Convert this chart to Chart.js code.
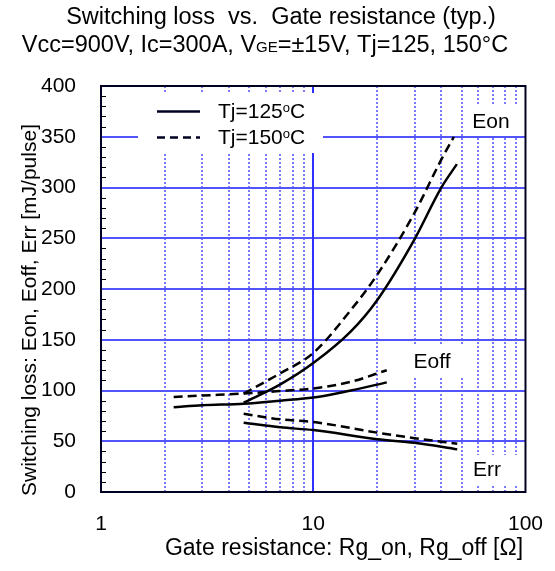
<!DOCTYPE html>
<html>
<head>
<meta charset="utf-8">
<script src="https://cdn.jsdelivr.net/npm/chart.js@4/dist/chart.umd.min.js"></script>
<style>
  html, body { margin: 0; padding: 0; background: #fff; }
  #wrap { width: 555px; height: 571px; }
</style>
</head>
<body>
<div id="wrap"><canvas id="chart" width="555" height="571"></canvas></div>
<script>
// Gate resistance [ohm] and losses [mJ/pulse]
const rgEon125 = [4.7, 7, 10, 15, 20, 30, 40, 47.5];
const eon125   = [88, 106, 127, 158, 189, 249, 299.5, 323];
const rgEon150 = [4.7, 7, 10, 15, 20, 30, 40, 46];
const eon150   = [97, 117, 137, 179, 214, 275, 327, 350];

const rgEoff  = [2.2, 3, 4.7, 7, 10, 15, 22.2];
const eoff125 = [83.5, 85.4, 87, 90, 93, 100, 108];
const eoff150 = [93.5, 95, 97, 99.5, 102, 108.5, 120];

const rgErr  = [4.7, 7, 10, 20, 30, 47.7];
const err125 = [68.3, 63.7, 61, 52, 48.5, 42];
const err150 = [77, 71.6, 69, 58.5, 53, 47.6];

const xTickLabels = [1, 10, 100];
const yTicks = [0, 50, 100, 150, 200, 250, 300, 350, 400];

const FONT = "'Liberation Sans', Arial, sans-serif";

const pts = (xs, ys) => xs.map((x, i) => ({ x, y: ys[i] }));

const solid = (label, xs, ys) => ({
    label, data: pts(xs, ys), borderColor: '#000', borderWidth: 2.5,
    pointRadius: 0, cubicInterpolationMode: 'monotone', fill: false
});
const dashed = (label, xs, ys) => ({ ...solid(label, xs, ys), borderDash: [9, 5] });

// white boxes behind labels, vertical grid, border, texts
const decor = {
    id: 'decor',
    beforeDatasetsDraw(chart) {
        const { ctx, chartArea: a, scales: { x } } = chart;
        ctx.save();
        // vertical grid lines
        for (let dec = 1; dec < 100; dec *= 10) {
            for (let m = 1; m <= 9; m++) {
                const v = dec * m;
                if (v <= 1) continue;
                const px = Math.round(x.getPixelForValue(v));
                ctx.beginPath();
                ctx.strokeStyle = m === 1 ? '#3030ff' : '#5a5aff';
                ctx.lineWidth = m === 1 ? 2 : 1.6;
                ctx.setLineDash(m === 1 ? [] : [2, 2]);
                ctx.moveTo(px, a.top);
                ctx.lineTo(px, a.bottom);
                ctx.stroke();
            }
        }
        ctx.setLineDash([]);
        ctx.fillStyle = '#fff';
        ctx.fillRect(138, 93, 185, 60);   // legend
        ctx.fillRect(468, 106, 67, 30);   // Eon
        ctx.fillRect(405, 346, 62, 31);   // Eoff
        ctx.fillRect(468, 455, 62, 30);   // Err
        ctx.restore();
    },
    afterDraw(chart) {
        const { ctx, chartArea: a, scales: { y } } = chart;
        ctx.save();
        // minor inward ticks on left axis
        ctx.strokeStyle = '#000';
        ctx.lineWidth = 1;
        for (let v = 10; v < 400; v += 10) {
            if (v % 50 === 0) continue;
            const py = Math.round(y.getPixelForValue(v)) + 0.5;
            ctx.beginPath();
            ctx.moveTo(a.left, py);
            ctx.lineTo(a.left + 5, py);
            ctx.stroke();
        }
        // frame
        ctx.strokeStyle = '#000022';
        ctx.lineWidth = 2;
        ctx.strokeRect(a.left, a.top, a.right - a.left, a.bottom - a.top);

        ctx.fillStyle = '#000';
        ctx.textBaseline = 'middle';
        ctx.textAlign = 'center';
        ctx.font = `21px ${FONT}`;
        ctx.fillText('Eon', 491, 122);
        ctx.fillText('Eoff', 432, 362);
        ctx.fillText('Err', 487, 470);

        // legend
        const legendRow = (yy, dash, t) => {
            ctx.beginPath();
            ctx.lineWidth = 2.5;
            ctx.setLineDash(dash);
            ctx.moveTo(157, yy);
            ctx.lineTo(200, yy);
            ctx.stroke();
            ctx.setLineDash([]);
            ctx.textAlign = 'left';
            ctx.font = `21px ${FONT}`;
            let cx = 218;
            ctx.fillText(t, cx, yy + 1);
            cx += ctx.measureText(t).width;
            ctx.font = `13px ${FONT}`;
            ctx.fillText('o', cx, yy - 3);
            cx += ctx.measureText('o').width;
            ctx.font = `21px ${FONT}`;
            ctx.fillText('C', cx, yy + 1);
        };
        legendRow(111.5, [], 'Tj=125');
        legendRow(137.5, [8, 5], 'Tj=150');

        // title
        ctx.textAlign = 'center';
        ctx.font = `23.5px ${FONT}`;
        ctx.fillText('Switching loss  vs.  Gate resistance (typ.)', 281, 18);
        const p1 = 'Vcc=900V, Ic=300A, V', p2 = 'GE', p3 = '=±15V, Tj=125, 150°C';
        const big = `23.5px ${FONT}`, small = `15px ${FONT}`;
        ctx.font = big;
        const w1 = ctx.measureText(p1).width, w3 = ctx.measureText(p3).width;
        ctx.font = small;
        const w2 = ctx.measureText(p2).width;
        let sx = 265 - (w1 + w2 + w3) / 2;
        ctx.textAlign = 'left';
        ctx.textBaseline = 'alphabetic';
        ctx.font = big;
        ctx.fillText(p1, sx, 52);
        ctx.font = small;
        ctx.fillText(p2, sx + w1, 52);
        ctx.font = big;
        ctx.fillText(p3, sx + w1 + w2, 52);

        // axis titles
        ctx.textAlign = 'center';
        ctx.textBaseline = 'middle';
        ctx.font = `23px ${FONT}`;
        ctx.fillText('Gate resistance: Rg_on, Rg_off [Ω]', 344, 549);
        ctx.translate(30, 310);
        ctx.rotate(-Math.PI / 2);
        ctx.font = `21px ${FONT}`;
        ctx.fillText('Switching loss: Eon, Eoff, Err [mJ/pulse]', 0, 0);
        ctx.restore();
    }
};

new Chart(document.getElementById('chart'), {
    type: 'line',
    data: {
        datasets: [
            solid('Eon Tj=125', rgEon125, eon125),
            dashed('Eon Tj=150', rgEon150, eon150),
            solid('Eoff Tj=125', rgEoff, eoff125),
            dashed('Eoff Tj=150', rgEoff, eoff150),
            solid('Err Tj=125', rgErr, err125),
            dashed('Err Tj=150', rgErr, err150)
        ]
    },
    options: {
        responsive: false,
        animation: false,
        layout: { padding: { left: 0, right: 19, top: 86, bottom: 0 } },
        plugins: { legend: { display: false }, tooltip: { enabled: false } },
        scales: {
            x: {
                type: 'logarithmic', min: 1, max: 100,
                afterBuildTicks: s => { s.ticks = xTickLabels.map(v => ({ value: v })); },
                afterFit: s => { s.height = 79; },
                grid: { display: false },
                border: { display: false },
                ticks: {
                    color: '#000', font: { family: FONT, size: 21 }, padding: 12,
                    maxRotation: 0, autoSkip: false, callback: v => String(v)
                }
            },
            y: {
                min: 0, max: 400,
                afterBuildTicks: s => { s.ticks = yTicks.map(v => ({ value: v })); },
                afterFit: s => { s.width = 101; },
                grid: { color: '#5454ff', lineWidth: 2, drawTicks: false },
                border: { display: false },
                ticks: { color: '#000', font: { family: FONT, size: 21 }, padding: 25 }
            }
        }
    },
    plugins: [decor]
});
</script>
</body>
</html>
